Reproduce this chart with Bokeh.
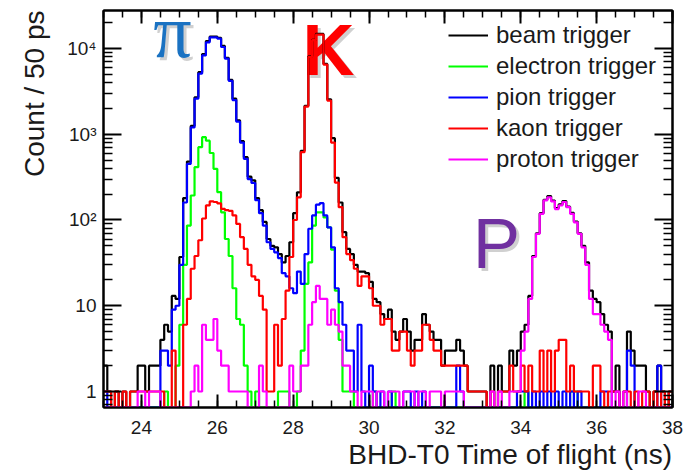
from bokeh.plotting import figure
from bokeh.models import (FixedTicker, LinearAxis, LogAxis, Range1d, Legend, LegendItem,
                          Title, CustomJSTickFormatter, Label)
from bokeh.embed import file_html
from bokeh.resources import INLINE

# ---------------- data (counts per 0.1 ns bin, 23.0 ... 38.0 ns) ----------------
BIN_START = 23.0
BIN_WIDTH = 0.1

beam = [
    2, 1, 0, 1, 0, 1, 0, 1, 1, 2,
    2, 1, 2, 2, 2, 4, 6, 5, 13, 12,
    37, 180, 480, 1250, 2700, 5300, 8600, 12200, 13800, 13800,
    13300, 10700, 7800, 4300, 2600, 1450, 830, 540, 320, 290,
    180, 130, 95, 60, 50, 48, 40, 32, 38, 55,
    120, 210, 640, 2150, 8100, 12600, 14800, 14800, 6600, 2550,
    900, 310, 160, 72, 46, 40, 30, 25, 25, 24,
    19, 12, 11, 8, 7, 9, 5, 4, 5, 7,
    5, 3, 4, 4, 8, 6, 5, 4, 4, 2,
    3, 3, 3, 4, 3, 2, 1, 1, 1, 1,
    1, 0, 2, 0, 2, 1, 1, 3, 2, 3,
    5, 6, 13, 38, 70, 120, 172, 190, 168, 138,
    152, 166, 143, 121, 96, 70, 50, 32, 15, 12,
    11, 8, 6, 5, 1, 2, 0, 1, 5, 3,
    2, 2, 2, 1, 0, 1, 2, 1, 0, 1,
]

electron = [
    0, 0, 0, 0, 0, 0, 0, 0, 0, 0,
    0, 0, 0, 0, 0, 0, 1, 0, 0, 2,
    6, 30, 86, 193, 413, 706, 925, 842, 604, 395,
    211, 123, 60, 38, 16, 7, 6, 2, 1, 0,
    1, 0, 0, 0, 0, 0, 1, 1, 1, 0,
    0, 1, 3, 18, 32, 86, 123, 123, 107, 82,
    45, 15, 4, 1, 1, 1, 0, 0, 0, 0,
    0, 1, 0, 0, 0, 0, 1, 0, 0, 0,
    0, 0, 0, 0, 0, 0, 0, 0, 0, 0,
    0, 0, 0, 0, 0, 0, 0, 0, 0, 0,
    0, 0, 0, 0, 0, 0, 0, 0, 0, 0,
    0, 1, 0, 0, 0, 0, 0, 0, 0, 0,
    0, 0, 0, 1, 1, 0, 0, 0, 0, 0,
    0, 0, 0, 0, 0, 0, 0, 0, 0, 0,
    0, 0, 0, 0, 0, 0, 0, 0, 0, 0,
]

pion = [
    1, 0, 0, 0, 0, 0, 0, 0, 0, 0,
    0, 0, 0, 0, 0, 3, 3, 2, 9, 10,
    30, 160, 450, 1200, 2600, 5100, 8300, 11800, 13500, 13500,
    13000, 10400, 7600, 4200, 2500, 1400, 800, 517, 300, 270,
    170, 120, 86, 55, 46, 42, 36, 24, 22, 16,
    14, 25, 18, 40, 79, 113, 151, 157, 113, 82,
    48, 16, 11, 6, 3, 3, 1, 6, 1, 0,
    2, 1, 0, 1, 0, 1, 0, 0, 0, 1,
    1, 0, 1, 0, 1, 0, 0, 0, 0, 0,
    0, 0, 0, 2, 1, 0, 0, 0, 0, 0,
    0, 0, 0, 0, 0, 0, 0, 0, 0, 1,
    1, 1, 0, 1, 0, 1, 0, 1, 0, 1,
    0, 1, 0, 1, 0, 1, 0, 0, 0, 0,
    0, 1, 1, 0, 1, 1, 0, 0, 3, 2,
    0, 0, 0, 0, 0, 0, 2, 0, 0, 0,
]

kaon = [
    1, 1, 0, 1, 0, 1, 0, 1, 1, 1,
    1, 1, 1, 1, 1, 1, 0, 0, 3, 0,
    0, 6, 12, 27, 38, 58, 104, 148, 165, 162,
    156, 135, 130, 128, 113, 90, 63, 46, 30, 22,
    20, 13, 9, 1, 1, 6, 2, 7, 15, 37,
    100, 184, 617, 2100, 8000, 12500, 14500, 14500, 6500, 2470,
    800, 273, 141, 63, 40, 34, 27, 17, 22, 22,
    16, 10, 10, 6, 7, 7, 3, 3, 5, 5,
    3, 2, 3, 3, 6, 6, 4, 3, 3, 2,
    2, 2, 2, 2, 2, 2, 1, 1, 1, 1,
    1, 0, 1, 0, 1, 1, 1, 2, 1, 1,
    2, 1, 2, 1, 1, 3, 1, 3, 1, 3,
    4, 4, 1, 2, 1, 1, 1, 1, 0, 2,
    2, 1, 0, 1, 1, 1, 0, 1, 1, 0,
    1, 0, 1, 1, 0, 1, 0, 1, 0, 1,
]

proton = [
    0, 0, 0, 0, 0, 0, 0, 0, 0, 1,
    1, 0, 1, 1, 1, 0, 0, 0, 0, 0,
    0, 0, 0, 1, 2, 1, 6, 4, 4, 7,
    3, 2, 2, 1, 1, 1, 1, 1, 0, 0,
    0, 2, 1, 0, 0, 0, 0, 0, 0, 2,
    1, 1, 2, 2, 6, 11, 17, 12, 12, 6,
    9, 6, 5, 2, 2, 1, 1, 0, 1, 1,
    1, 0, 1, 1, 0, 1, 1, 1, 0, 1,
    1, 1, 0, 1, 1, 0, 1, 1, 1, 0,
    1, 1, 1, 1, 1, 0, 0, 0, 0, 0,
    0, 0, 1, 0, 1, 0, 0, 1, 1, 1,
    3, 5, 12, 37, 69, 118, 169, 184, 165, 134,
    148, 162, 141, 118, 94, 69, 48, 30, 12, 8,
    8, 6, 5, 4, 0, 1, 0, 1, 0, 0,
    0, 1, 1, 0, 0, 0, 0, 0, 0, 0,
]

series_names = ["beam trigger", "electron trigger", "pion trigger", "kaon trigger", "proton trigger"]
series_data = [beam, electron, pion, kaon, proton]
series_colors = ["#000000", "#00ff00", "#0000ff", "#ff0000", "#ff00ff"]

x_tick_values = [24, 26, 28, 30, 32, 34, 36, 38]
y_tick_values = [1, 10, 100, 1000, 10000]
y_tick_labels = ["1", "10", "10\u00b2", "10\u00b3", "10\u2074"]

# particle tags: (text, x, anchor y, colour, font, style, size)
tags = [
    ("\u03c0", 24.82, 15780, "#1a72c2", "Liberation Serif", "normal", "76px"),
    ("K", 28.93, 9730, "#ff0000", "Liberation Sans", "bold", "72px"),
    ("P", 33.36, 53.2, "#7030a0", "Liberation Sans", "normal", "71px"),
]

X_MIN, X_MAX = 23.0, 38.0
Y_MIN, Y_MAX = 0.6505, 27730.0

# ---------------- figure ----------------
p = figure(width=684, height=474, x_range=Range1d(X_MIN, X_MAX),
           y_range=Range1d(Y_MIN, Y_MAX), y_axis_type="log",
           output_backend="svg", toolbar_location=None,
           min_border_left=103, min_border_right=12, min_border_top=10,
           min_border_bottom=67)
p.xgrid.visible = False
p.ygrid.visible = False
p.outline_line_color = "#000000"
p.outline_line_width = 2
p.background_fill_color = "white"
p.border_fill_color = "white"

# particle tags with a soft shadow (annotations, drawn under the histograms)
for t, tx, ty, col, font, style, size in tags:
    p.add_layout(Label(x=tx, y=ty, text=t, text_color="#777777", text_alpha=0.35,
                       x_offset=3, y_offset=-3, text_align="center",
                       text_baseline="alphabetic", text_font=font,
                       text_font_style=style, text_font_size=size, level="underlay"))
    p.add_layout(Label(x=tx, y=ty, text=t, text_color=col, text_align="center",
                       text_baseline="alphabetic", text_font=font,
                       text_font_style=style, text_font_size=size, level="underlay"))

edges = [BIN_START + BIN_WIDTH * i for i in range(len(beam) + 1)]
items = []
for name, counts, col in zip(series_names, series_data, series_colors):
    ys = [c if c > 0 else Y_MIN for c in counts]
    ys = ys + [ys[-1]]
    r = p.step(x=edges, y=ys, mode="after", line_color=col, line_width=2.2)
    items.append(LegendItem(label=name, renderers=[r]))

# ticks
xticker = FixedTicker(ticks=x_tick_values,
                      minor_ticks=[X_MIN + 0.5 * i for i in range(31)])
minor_y = [0.7, 0.8, 0.9]
for d in [1, 10, 100, 1000, 10000]:
    minor_y += [k * d for k in range(2, 10)]
yticker = FixedTicker(ticks=y_tick_values, minor_ticks=minor_y)

label_map = ", ".join(f"{v}: '{l}'" for v, l in zip(y_tick_values, y_tick_labels))
yformatter = CustomJSTickFormatter(code=f"const m = {{{label_map}}}; return m[tick] ?? '';")
blank = CustomJSTickFormatter(code="return '';")


def style_axis(ax, tin, tmin, standoff=7, labels=True):
    ax.axis_line_width = 2
    ax.axis_line_color = "#000000"
    ax.major_tick_in = tin
    ax.major_tick_out = 0
    ax.minor_tick_in = tmin
    ax.minor_tick_out = 0
    ax.major_tick_line_width = 2
    ax.minor_tick_line_width = 1.5
    ax.major_label_text_font = "Liberation Sans"
    ax.major_label_text_font_size = "19px"
    ax.major_label_text_color = "#1a1a1a"
    if labels:
        ax.major_label_standoff = standoff
    else:
        ax.formatter = blank
        ax.major_label_standoff = 0


p.xaxis.ticker = xticker
p.yaxis.ticker = yticker
p.yaxis.formatter = yformatter
style_axis(p.xaxis[0], 13, 7, standoff=13)
style_axis(p.yaxis[0], 18, 9, standoff=7)

top = LinearAxis(ticker=xticker)
style_axis(top, 13, 7, labels=False)
p.add_layout(top, "above")
right = LogAxis(ticker=yticker)
style_axis(right, 18, 9, labels=False)
p.add_layout(right, "right")

# axis titles (right-aligned, ROOT style)
p.add_layout(Title(text="BHD-T0 Time of flight (ns)", align="right",
                   text_font="Liberation Sans", text_font_size="28px",
                   text_font_style="normal", text_color="#1a1a1a", standoff=0), "below")
p.add_layout(Title(text="Count / 50 ps", align="right",
                   text_font="Liberation Sans", text_font_size="28px",
                   text_font_style="normal", text_color="#1a1a1a", standoff=29), "left")

legend = Legend(items=items, location=(345, 234), border_line_color=None,
                background_fill_alpha=0, padding=0, margin=0, spacing=3,
                glyph_width=40, glyph_height=28, label_height=28, label_standoff=8,
                label_text_font="Liberation Sans", label_text_font_size="24px",
                label_text_color="#1a1a1a")
p.add_layout(legend)

open("out.html", "w").write(file_html(p, INLINE))
